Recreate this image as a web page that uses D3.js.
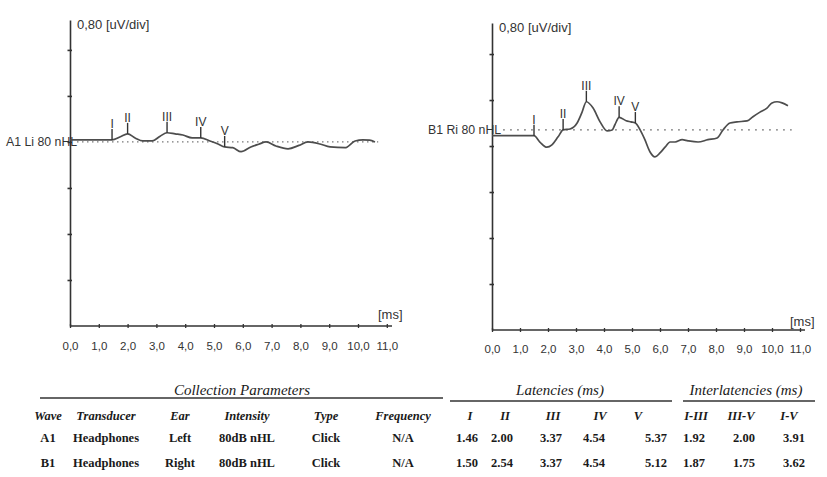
<!DOCTYPE html>
<html>
<head>
<meta charset="utf-8">
<script src="https://cdn.jsdelivr.net/npm/d3@7"></script>
<style>
  html,body{margin:0;padding:0;background:#fff;}
  svg{display:block;}
</style>
</head>
<body>
<svg id="chart" width="827" height="477"></svg>
<script>
// ---------------- DATA ----------------
const xTicksMs = [0,1,2,3,4,5,6,7,8,9,10,11];
const xTickLabels = ["0,0","1,0","2,0","3,0","4,0","5,0","6,0","7,0","8,0","9,0","10,0","11,0"];
const yDivUv = 0.8;
const yTicksUv = [0.8,1.6,2.4,3.2,4.0,4.8];
const yUnitLabel = "0,80 [uV/div]";
const xUnitLabel = "[ms]";
const peakLabels = ["I","II","III","IV","V"];

// Wave A1 (left ear) - time (ms) and amplitude (uV) relative to trace baseline
const waveA1Name = "A1 Li 80 nHL";
const waveA1Baseline = 3.2;
const traceA1Ms = [0, 1.46, 1.75, 2.00, 2.26, 2.53, 2.85, 3.13, 3.37, 3.65, 3.92, 4.24, 4.54, 4.86, 5.14, 5.37, 5.65, 5.94, 6.28, 6.55, 6.81, 7.15, 7.57, 7.95, 8.26, 8.68, 9.03, 9.55, 9.90, 10.17, 10.40, 10.59];
const traceA1Uv = [0.035, 0.035, 0.09, 0.14, 0.07, 0.017, 0.017, 0.10, 0.16, 0.14, 0.12, 0.07, 0.07, 0.017, -0.035, -0.087, -0.10, -0.17, -0.087, -0.04, 0.0, -0.07, -0.12, -0.06, 0.0, -0.035, -0.087, -0.10, 0.017, 0.035, 0.03, 0.0];
const latA1 = [1.46, 2.00, 3.37, 4.54, 5.37];

// Wave B1 (right ear)
const waveB1Name = "B1 Ri 80 nHL";
const waveB1Baseline = 3.48;
const traceB1Ms = [0, 1.50, 1.71, 1.96, 2.14, 2.36, 2.54, 2.79, 3.04, 3.21, 3.37, 3.61, 3.86, 4.11, 4.29, 4.39, 4.54, 4.79, 4.96, 5.12, 5.29, 5.46, 5.64, 5.82, 6.00, 6.18, 6.36, 6.54, 6.79, 7.00, 7.36, 7.71, 8.04, 8.25, 8.50, 8.75, 9.11, 9.32, 9.57, 9.82, 10.00, 10.18, 10.36, 10.57];
const traceB1Uv = [-0.10, -0.10, -0.21, -0.30, -0.26, -0.12, 0.0, 0.017, 0.12, 0.30, 0.49, 0.38, 0.14, -0.017, 0.0, 0.09, 0.22, 0.16, 0.14, 0.12, 0.0, -0.17, -0.38, -0.47, -0.40, -0.30, -0.21, -0.21, -0.17, -0.19, -0.21, -0.17, -0.14, 0.0, 0.12, 0.14, 0.157, 0.23, 0.31, 0.38, 0.47, 0.49, 0.47, 0.42];
const latB1 = [1.50, 2.54, 3.37, 4.54, 5.12];

// Table
const tableTitles = ["Collection Parameters", "Latencies (ms)", "Interlatencies (ms)"];
const paramHeaders = ["Wave","Transducer","Ear","Intensity","Type","Frequency"];
const paramA1 = ["A1","Headphones","Left","80dB nHL","Click","N/A"];
const paramB1 = ["B1","Headphones","Right","80dB nHL","Click","N/A"];
const latHeaders = ["I","II","III","IV","V"];
const interHeaders = ["I-III","III-V","I-V"];
const interA1 = [1.92, 2.00, 3.91];
const interB1 = [1.87, 1.75, 3.62];

// ---------------- LAYOUT ----------------
const svg = d3.select("#chart");
const ink = "#333333";
const traceColor = "#4d4d4d";
const sansFont = "'Liberation Sans', Arial, sans-serif";
const serifFont = "'Liberation Serif', 'Times New Roman', serif";

const panels = [
  {name: waveA1Name, base: waveA1Baseline, ms: traceA1Ms, uv: traceA1Uv, lat: latA1,
   x0: 70, x11: 386.8, xEnd: 392, yBottom: 326, yTop: 20, yMax: 5.32,
   nameX: 6, dotFrom: 0.25, dotTo: 10.7, dash: "1.2,3.8",
   unitX: 378, unitY: 319, labY: 346},
  {name: waveB1Name, base: waveB1Baseline, ms: traceB1Ms, uv: traceB1Uv, lat: latB1,
   x0: 492, x11: 800, xEnd: 805, yBottom: 330, yTop: 23, yMax: 5.34,
   nameX: 428, dotFrom: 0.4, dotTo: 10.7, dash: "1.5,5.5",
   unitX: 790, unitY: 326, labY: 349}
];

function interp(msArr, uvArr, t){
  for(let i=0;i<msArr.length-1;i++){
    if(t>=msArr[i] && t<=msArr[i+1]){
      const f=(t-msArr[i])/(msArr[i+1]-msArr[i]);
      return uvArr[i]+f*(uvArr[i+1]-uvArr[i]);
    }
  }
  return uvArr[uvArr.length-1];
}

panels.forEach(p=>{
  const x = d3.scaleLinear().domain([0,11]).range([p.x0, p.x11]);
  const y = d3.scaleLinear().domain([0,p.yMax]).range([p.yBottom, p.yTop]);
  const g = svg.append("g");

  // y axis
  const ya = g.append("g").attr("transform",`translate(${p.x0},0)`)
    .call(d3.axisLeft(y).tickValues(yTicksUv).tickSize(2).tickSizeOuter(0).tickFormat(""));
  ya.select(".domain").attr("stroke",ink).attr("stroke-width",1.6);
  ya.selectAll(".tick line").attr("x1",-2.5).attr("x2",2).attr("stroke",ink).attr("stroke-width",1.6);

  // x axis
  const xa = g.append("g").attr("transform",`translate(0,${p.yBottom})`)
    .call(d3.axisBottom(x).tickValues(xTicksMs).tickSize(2).tickSizeOuter(0)
      .tickFormat((d,i)=>xTickLabels[i]));
  xa.select(".domain").remove();
  xa.append("line").attr("x1",p.x0).attr("x2",p.xEnd).attr("stroke",ink).attr("stroke-width",1.6);
  xa.selectAll(".tick line").attr("y1",-2).attr("y2",2).attr("stroke",ink).attr("stroke-width",1.3);
  xa.selectAll(".tick text").attr("y", p.labY - p.yBottom).attr("dy","0.35em")
    .attr("fill",ink).style("font-family",sansFont).style("font-size","11.5px");

  // unit labels
  g.append("text").attr("x",p.x0+7).attr("y",p.yTop+9).text(yUnitLabel)
    .attr("fill",ink).style("font-family",sansFont).style("font-size","13px");
  g.append("text").attr("x",p.unitX).attr("y",p.unitY).text(xUnitLabel)
    .attr("fill",ink).style("font-family",sansFont).style("font-size","13px");

  // dotted baseline
  g.append("line").attr("x1",x(p.dotFrom)).attr("x2",x(p.dotTo))
    .attr("y1",y(p.base)).attr("y2",y(p.base))
    .attr("stroke","#555").attr("stroke-width",1.3).attr("stroke-dasharray",p.dash);

  // wave name
  g.append("text").attr("x",p.nameX).attr("y",y(p.base)).attr("dy","0.35em").text(p.name)
    .attr("fill",ink).style("font-family",sansFont).style("font-size","12.3px");

  // trace
  const pts = p.ms.map((t,i)=>[t, p.base + p.uv[i]]);
  g.append("path").datum(pts)
    .attr("d", d3.line().x(d=>x(d[0])).y(d=>y(d[1])).curve(d3.curveMonotoneX))
    .attr("fill","none").attr("stroke",traceColor).attr("stroke-width",1.7);

  // peak markers
  p.lat.forEach((t,i)=>{
    const yy = y(p.base + interp(p.ms,p.uv,t));
    g.append("line").attr("x1",x(t)).attr("x2",x(t)).attr("y1",yy).attr("y2",yy-11)
      .attr("stroke",ink).attr("stroke-width",1.4);
    g.append("text").attr("x",x(t)).attr("y",yy-12).attr("text-anchor","middle").text(peakLabels[i])
      .attr("fill",ink).style("font-family",sansFont).style("font-size","12px");
  });
});

// ---------------- TABLE ----------------
const tg = svg.append("g").style("font-family",serifFont).attr("fill","#1a1a1a");
const titleX = [242, 560, 746];
tableTitles.forEach((t,i)=>{
  tg.append("text").attr("x",titleX[i]).attr("y",395).attr("text-anchor","middle")
    .style("font-style","italic").style("font-size","15px").text(t);
});
const rules = [[40,443,398],[450,672,401],[683,815,401]];
rules.forEach(r=>{
  tg.append("line").attr("x1",r[0]).attr("x2",r[1]).attr("y1",r[2]).attr("y2",r[2])
    .attr("stroke","#333").attr("stroke-width",1.5);
});

const paramX = [48,106,180,247,326,403];
const latHeadX = [470,505,553,600,638];
const latValX = [467,502,551,594,656];
const interHeadX = [696,741,789];
const interValX = [694,744,794];
const fmt = d3.format(".2f");
const hY = 420, r1Y = 442, r2Y = 467;

function hdr(xp,t){
  tg.append("text").attr("x",xp).attr("y",hY).attr("text-anchor","middle")
    .style("font-style","italic").style("font-weight","600").style("font-size","12.5px").text(t);
}
function val(xp,yp,t){
  tg.append("text").attr("x",xp).attr("y",yp).attr("text-anchor","middle")
    .style("font-weight","bold").style("font-size","12.5px").text(t);
}
paramHeaders.forEach((t,i)=>hdr(paramX[i],t));
latHeaders.forEach((t,i)=>hdr(latHeadX[i],t));
interHeaders.forEach((t,i)=>hdr(interHeadX[i],t));
paramA1.forEach((t,i)=>val(paramX[i],r1Y,t));
paramB1.forEach((t,i)=>val(paramX[i],r2Y,t));
latA1.forEach((v,i)=>val(latValX[i],r1Y,fmt(v)));
latB1.forEach((v,i)=>val(latValX[i],r2Y,fmt(v)));
interA1.forEach((v,i)=>val(interValX[i],r1Y,fmt(v)));
interB1.forEach((v,i)=>val(interValX[i],r2Y,fmt(v)));
</script>
</body>
</html>
